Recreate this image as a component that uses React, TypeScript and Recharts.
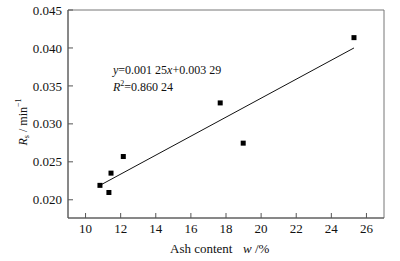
import { ScatterChart, Scatter, XAxis, YAxis, ReferenceArea, ReferenceDot, Label } from "recharts";

const ashContent = [10.82, 11.33, 11.45, 12.15, 17.67, 18.98, 25.29];
const rateValues = [0.0219, 0.02096, 0.02351, 0.0257, 0.03276, 0.02746, 0.04136];

const fitX = [10.82, 25.29];
const fitY = [0.0219, 0.04];

const xTicks = [10, 12, 14, 16, 18, 20, 22, 24, 26];
const yTicks = [0.02, 0.025, 0.03, 0.035, 0.04, 0.045];

const FONT = "'Liberation Serif', 'Times New Roman', serif";

const points = ashContent.map((x, i) => ({ x, y: rateValues[i] }));
const fitLine = fitX.map((x, i) => ({ x, y: fitY[i] }));

const SquareDot = (props: any) => {
    const { cx, cy } = props;
    return <rect x={cx - 2.5} y={cy - 2.5} width={5} height={5} fill="#000" />;
};

const YTitle = (props: any) => {
    const { viewBox } = props;
    const cx = viewBox.x + 23;
    const cy = 122;
    return (
        <text x={cx} y={cy} transform={`rotate(-90 ${cx} ${cy})`} textAnchor="middle" dominantBaseline="central"
            fontFamily={FONT} fontSize={12} fill="#111">
            <tspan fontStyle="italic">R</tspan>
            <tspan fontSize={8} dy={3}>s</tspan>
            <tspan dy={-3}> / min</tspan>
            <tspan fontSize={8} dy={-5}>−1</tspan>
        </text>
    );
};

const Equation = (props: any) => {
    const { cx, cy } = props;
    return (
        <g fontFamily={FONT} fontSize={12} fill="#111">
            <text x={cx} y={cy}>
                <tspan fontStyle="italic">y</tspan>
                <tspan>=0.001 25</tspan>
                <tspan fontStyle="italic">x</tspan>
                <tspan>+0.003 29</tspan>
            </text>
            <text x={cx} y={cy + 17}>
                <tspan fontStyle="italic">R</tspan>
                <tspan fontSize={8} dy={-5}>2</tspan>
                <tspan dy={5}>=0.860 24</tspan>
            </text>
        </g>
    );
};

export default function App() {
    return (
        <div style={{ position: "absolute", left: 0, top: 0, background: "#fff" }}>
            <ScatterChart width={400} height={261} margin={{ top: 10, right: 16, left: 0, bottom: 0 }}>
                <XAxis
                    type="number"
                    dataKey="x"
                    domain={[9, 27]}
                    ticks={xTicks}
                    height={43}
                    tickSize={-5}
                    tickMargin={11}
                    stroke="#555"
                    tick={{ fontFamily: FONT, fontSize: 13, fill: "#111" }}
                    allowDataOverflow
                >
                    <Label
                        content={() => (
                            <text x={170} y={253} fontFamily={FONT} fontSize={13} fill="#111">
                                <tspan>Ash content</tspan>
                                <tspan x={243} fontStyle="italic">w</tspan>
                                <tspan> /%</tspan>
                            </text>
                        )}
                    />
                </XAxis>
                <YAxis
                    type="number"
                    dataKey="y"
                    domain={[0.0176, 0.045]}
                    ticks={yTicks}
                    width={68}
                    tickSize={-5}
                    tickMargin={11}
                    stroke="#555"
                    tickFormatter={(v: number) => v.toFixed(3)}
                    tick={{ fontFamily: FONT, fontSize: 13, fill: "#111" }}
                    allowDataOverflow
                >
                    <Label content={YTitle} />
                </YAxis>
                <ReferenceArea x1={9} x2={27} y1={0.0176} y2={0.045} fill="none" stroke="#777" strokeWidth={1} />
                <Scatter data={fitLine} line={{ stroke: "#111", strokeWidth: 1 }} shape={() => <g />} isAnimationActive={false} />
                <Scatter data={points} shape={SquareDot} isAnimationActive={false} />
                <ReferenceDot x={11.56} y={0.03658} shape={Equation} />
            </ScatterChart>
        </div>
    );
}
